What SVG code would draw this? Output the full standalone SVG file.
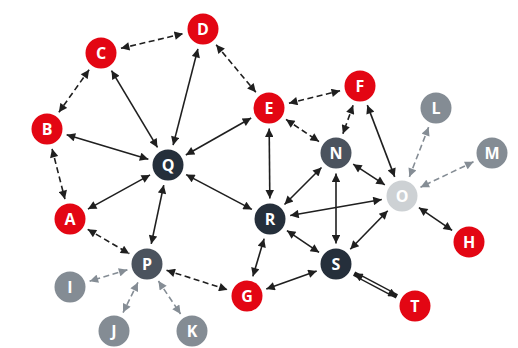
<svg xmlns="http://www.w3.org/2000/svg" width="518" height="348" viewBox="0 0 518 348">
<style>
.e{fill:none;stroke:#1f1f1f;stroke-width:1.6;marker-start:url(#ak);marker-end:url(#ak)}
.d{stroke-dasharray:6 3.5}
.g{fill:none;stroke:#858d95;stroke-width:1.6;stroke-dasharray:6 3.5;marker-start:url(#ag);marker-end:url(#ag)}
.red{fill:#e30613}.nav{fill:#252f3b}.dg{fill:#4b535e}.gr{fill:#848c94}.lg{fill:#cdd1d4}
text{font-family:"Open Sans","Liberation Sans",sans-serif;font-weight:700;font-size:16px;fill:#fff;text-anchor:middle;dominant-baseline:central}
</style>
<defs>
<marker id="ak" viewBox="0 0 10 10" refX="10" refY="5" markerWidth="10" markerHeight="8.5" markerUnits="userSpaceOnUse" orient="auto-start-reverse"><path d="M0,0L10,5L0,10z" fill="#1f1f1f"/></marker>
<marker id="ag" viewBox="0 0 10 10" refX="10" refY="5" markerWidth="10" markerHeight="8.5" markerUnits="userSpaceOnUse" orient="auto-start-reverse"><path d="M0,0L10,5L0,10z" fill="#858d95"/></marker>
</defs>
<g id="connectors">
<line class="e d" x1="120.95" y1="48.31" x2="183.05" y2="33.69"/>
<line class="e d" x1="216.15" y1="44.74" x2="255.85" y2="92.26"/>
<line class="e d" x1="89.12" y1="69.71" x2="58.88" y2="112.29"/>
<line class="e d" x1="52.08" y1="148.86" x2="64.92" y2="199.14"/>
<line class="e d" x1="288.93" y1="103.18" x2="340.07" y2="90.82"/>
<line class="e d" x1="286.02" y1="119.43" x2="318.98" y2="141.57"/>
<line class="e d" x1="353.09" y1="105.30" x2="342.91" y2="133.70"/>
<line class="e d" x1="87.70" y1="229.34" x2="129.30" y2="253.66"/>
<line class="e d" x1="166.52" y1="270.25" x2="227.48" y2="289.75"/>
<line class="e" x1="111.52" y1="70.59" x2="157.48" y2="147.41"/>
<line class="e" x1="197.89" y1="48.86" x2="173.11" y2="145.14"/>
<line class="e" x1="66.66" y1="134.85" x2="148.34" y2="159.15"/>
<line class="e" x1="251.15" y1="118.07" x2="185.85" y2="154.93"/>
<line class="e" x1="150.05" y1="174.89" x2="87.95" y2="209.11"/>
<line class="e" x1="163.75" y1="185.05" x2="151.25" y2="243.95"/>
<line class="e" x1="186.12" y1="174.59" x2="251.88" y2="209.41"/>
<line class="e" x1="269.18" y1="128.5" x2="269.82" y2="198.5"/>
<line class="e" x1="321.50" y1="167.50" x2="284.50" y2="204.50"/>
<line class="e" x1="353.17" y1="164.19" x2="384.83" y2="184.81"/>
<line class="e" x1="367.31" y1="105.16" x2="394.69" y2="176.84"/>
<line class="e" x1="336" y1="173.5" x2="336" y2="243.5"/>
<line class="e" x1="290.19" y1="215.48" x2="381.81" y2="199.52"/>
<line class="e" x1="286.93" y1="230.55" x2="319.07" y2="252.45"/>
<line class="e" x1="350.27" y1="249.30" x2="387.73" y2="210.70"/>
<line class="e" x1="418.89" y1="207.60" x2="452.11" y2="230.40"/>
<line class="e" x1="264.13" y1="238.63" x2="252.87" y2="276.37"/>
<line class="e" x1="266.29" y1="289.07" x2="316.71" y2="270.93"/>
<line class="e" style="stroke-width:4.8" x1="354.10" y1="273.62" x2="396.90" y2="296.38"/>
<line stroke="#fff" stroke-width="2" x1="362" y1="277.8" x2="389" y2="292.2"/>
<line class="g" x1="428.61" y1="127.13" x2="409.39" y2="176.87"/>
<line class="g" x1="473.49" y1="161.84" x2="420.51" y2="187.16"/>
<line class="g" x1="127.37" y1="269.87" x2="89.63" y2="281.13"/>
<line class="g" x1="137.94" y1="282.39" x2="123.06" y2="312.61"/>
<line class="g" x1="158.43" y1="281.02" x2="180.57" y2="313.98"/>
</g>
<g id="A"><circle class="red" cx="70" cy="219" r="15.5"/><text x="70" y="219">A</text></g>
<g id="B"><circle class="red" cx="47" cy="129" r="15.5"/><text x="47" y="129">B</text></g>
<g id="C"><circle class="red" cx="101" cy="53" r="15.5"/><text x="101" y="53">C</text></g>
<g id="D"><circle class="red" cx="203" cy="29" r="15.5"/><text x="203" y="29">D</text></g>
<g id="E"><circle class="red" cx="269" cy="108" r="15.5"/><text x="269" y="108">E</text></g>
<g id="F"><circle class="red" cx="360" cy="86" r="15.5"/><text x="360" y="86">F</text></g>
<g id="G"><circle class="red" cx="247" cy="296" r="15.5"/><text x="247" y="296">G</text></g>
<g id="H"><circle class="red" cx="469" cy="242" r="15.5"/><text x="469" y="242">H</text></g>
<g id="I"><circle class="gr" cx="70" cy="287" r="15.5"/><text x="70" y="287">I</text></g>
<g id="J"><circle class="gr" cx="114" cy="331" r="15.5"/><text x="114" y="331">J</text></g>
<g id="K"><circle class="gr" cx="192" cy="331" r="15.5"/><text x="192" y="331">K</text></g>
<g id="L"><circle class="gr" cx="436" cy="108" r="15.5"/><text x="436" y="108">L</text></g>
<g id="M"><circle class="gr" cx="492" cy="153" r="15.5"/><text x="492" y="153">M</text></g>
<g id="N"><circle class="dg" cx="336" cy="153" r="15.5"/><text x="336" y="153">N</text></g>
<g id="O"><circle class="lg" cx="402" cy="196" r="15.5"/><text x="402" y="196">O</text></g>
<g id="P"><circle class="dg" cx="147" cy="264" r="15.5"/><text x="147" y="264">P</text></g>
<g id="Q"><circle class="nav" cx="168" cy="165" r="15.5"/><text x="168" y="165">Q</text></g>
<g id="R"><circle class="nav" cx="270" cy="219" r="15.5"/><text x="270" y="219">R</text></g>
<g id="S"><circle class="nav" cx="336" cy="264" r="15.5"/><text x="336" y="264">S</text></g>
<g id="T"><circle class="red" cx="415" cy="306" r="15.5"/><text x="415" y="306">T</text></g>
</svg>
